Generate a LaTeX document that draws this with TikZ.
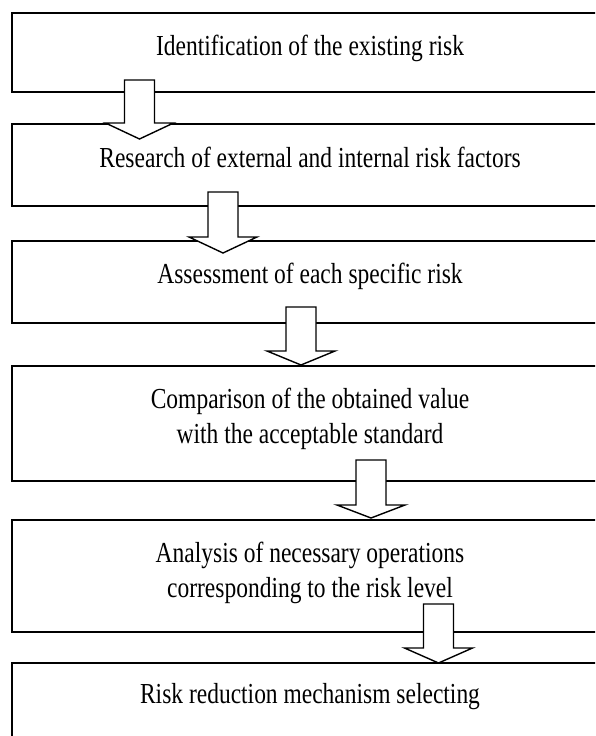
\documentclass[tikz,border=0pt]{standalone}
\usepackage{fontspec}
\setmainfont[FakeStretch=0.81]{Liberation Serif}
\begin{document}
\begin{tikzpicture}[x=1pt,y=-1pt,
  box/.style={draw=black,line width=1.8pt,fill=white,rectangle,minimum width=596pt,inner sep=0pt},
  txt/.style={inner sep=0pt,align=center,font=\fontsize{29}{34.5}\selectfont},
  blockarrow/.style={draw=black,line width=1.4pt,fill=white,line join=miter}]
\useasboundingbox (0,0) rectangle (595,736);
\clip (0,0) rectangle (595,736);
\node[box,minimum height=79pt] (b1) at (310,52.5) {};
\node[box,minimum height=82pt] (b2) at (310,165) {};
\node[box,minimum height=82pt] (b3) at (310,282) {};
\node[box,minimum height=115pt] (b4) at (310,423.5) {};
\node[box,minimum height=112pt] (b5) at (310,576) {};
\node[box,minimum height=90pt] (b6) at (310,708) {};
\node[txt,anchor=base] (t1) at (310,55) {Identification of the existing risk};
\node[txt,anchor=base] (t2) at (310,167) {Research of external and internal risk factors};
\node[txt,anchor=base] (t3) at (310,283) {Assessment of each specific risk};
\node[txt,anchor=base] (t4) at (310,443) {Comparison of the obtained value\\with the acceptable standard};
\node[txt,anchor=base] (t5) at (310,597) {Analysis of necessary operations\\corresponding to the risk level};
\node[txt,anchor=base] (t6) at (310,703) {Risk reduction mechanism selecting};
\foreach \x/\top/\sh/\tip in {139.5/80/123/139, 223/192/237/253, 301/307/351/365, 371/460/505/518, 438.5/604/648/663}{
  \draw[blockarrow] (\x-15,\top) -- (\x+15,\top) -- (\x+15,\sh) -- (\x+34,\sh) -- (\x,\tip) -- (\x-34,\sh) -- (\x-15,\sh) -- cycle;
}
\end{tikzpicture}
\end{document}
